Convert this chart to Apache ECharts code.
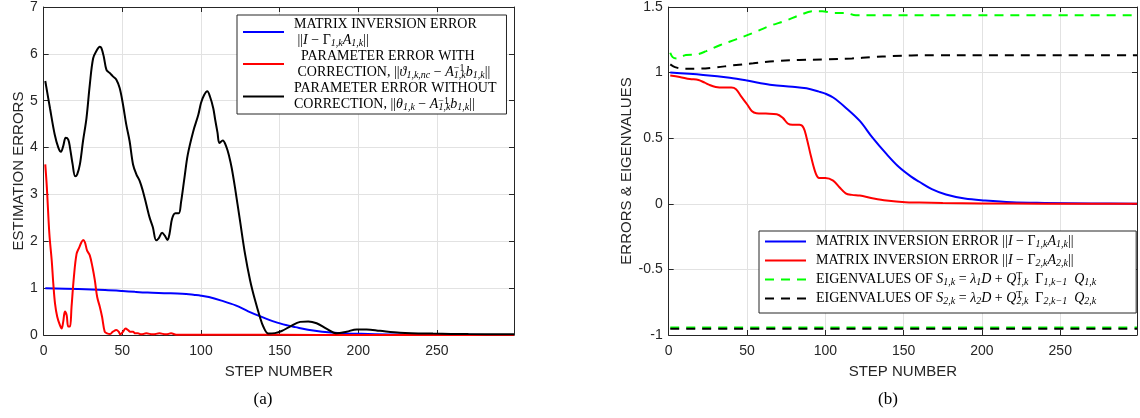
<!DOCTYPE html>
<html><head><meta charset="utf-8">
<script src="https://cdn.jsdelivr.net/npm/echarts@6/dist/echarts.min.js"></script>
<style>html,body{margin:0;padding:0;background:#fff}#c{width:1140px;height:418px}</style>
</head><body><div id="c"></div>
<script>
// ---------- axis ticks ----------
const xTickStep = 50;
const xRange = [0, 299];
const leftYRange = [0, 7];
const leftYStep = 1;
const rightYRange = [-1, 1.5];
const rightYStep = 0.5;

// ---------- texts ----------
const xTitle = 'STEP NUMBER';
const leftYTitle = 'ESTIMATION ERRORS';
const rightYTitle = 'ERRORS & EIGENVALUES';
const captions = ['(a)', '(b)'];

// ---------- (a) series ----------
// matrix inversion error ||I - G1A1|| (blue, also used in (b))
const stepsInv1 = [1, 22, 39, 50, 58, 66, 79, 88, 96, 100, 105, 113, 122, 130, 139, 147, 155, 160, 168, 177, 189, 202, 219, 240, 270, 299];
const valsInv1  = [1.0, 0.982, 0.961, 0.94, 0.921, 0.906, 0.893, 0.88, 0.855, 0.84, 0.81, 0.733, 0.632, 0.506, 0.38, 0.28, 0.205, 0.168, 0.112, 0.071, 0.04, 0.025, 0.012, 0.007, 0.003, 0.001];

// parameter error with correction (red)
const stepsParC = [1, 2, 3.6, 5.1, 6.1, 7.2, 8.6, 10.3, 11.4, 12.4, 13.5, 14.6, 15.6, 16.7, 17.7, 19.2, 20.9, 22.6, 24, 25.1, 26.2, 27.6, 29.3, 31, 32.5, 34, 35.7, 37.1, 38.8, 40.3, 42, 44, 46.2, 47.7, 48.7, 50.4, 52.1, 53.6, 55, 56.8, 58.2, 59.9, 62, 65.2, 69.4, 73.6, 77.8, 81, 84.2, 100, 150, 200, 299];
const valsParC  = [3.64, 3.15, 2.16, 1.59, 1.10, 0.67, 0.39, 0.21, 0.14, 0.28, 0.50, 0.42, 0.18, 0.18, 0.60, 1.24, 1.73, 1.87, 1.98, 2.03, 1.98, 1.80, 1.70, 1.45, 1.17, 0.81, 0.60, 0.39, 0.07, 0.035, 0.02, 0.07, 0.106, 0.07, 0.014, 0.07, 0.14, 0.106, 0.07, 0.07, 0.035, 0.035, 0.014, 0.035, 0.014, 0.035, 0.014, 0.035, 0.007, 0.005, 0.003, 0.002, 0.002];

// parameter error without correction (black)
const stepsParN = [1, 4, 7, 9.3, 11, 12.4, 14, 15.6, 16.7, 18.4, 20, 21.3, 23, 25, 27.2, 29.3, 31.4, 33.5, 35.7, 36.7, 38.2, 39.9, 42, 44, 46.2, 48.3, 50.4, 52.5, 54.6, 56.8, 58.9, 61, 63, 65.2, 67.3, 69.4, 71.5, 73.2, 75.3, 77, 78.7, 80, 81.6, 83.7, 85.9, 87.3, 89.5, 91.6, 95.1, 98.3, 100, 102, 104, 105.6, 107.8, 109, 110.5, 111.7, 113.8, 116.3, 118, 119.5, 121.6, 124.8, 128, 131.2, 134.3, 137.5, 139.6, 142.8, 147, 151.3, 156.6, 163, 168.2, 173.5, 180, 186.3, 192.6, 199, 205.3, 213.8, 226.5, 247.5, 270, 299];
const valsParN  = [5.42, 4.84, 4.28, 4.0, 3.91, 4.03, 4.21, 4.17, 4.0, 3.64, 3.39, 3.43, 3.64, 4.14, 4.63, 5.34, 5.9, 6.06, 6.15, 6.12, 5.94, 5.66, 5.59, 5.52, 5.45, 5.27, 4.92, 4.49, 4.14, 3.64, 3.43, 3.29, 3.08, 2.79, 2.51, 2.30, 2.02, 2.07, 2.18, 2.12, 2.03, 2.16, 2.48, 2.60, 2.60, 2.83, 3.36, 3.85, 4.35, 4.70, 4.95, 5.12, 5.20, 5.10, 4.84, 4.6, 4.32, 4.10, 4.15, 4.0, 3.8, 3.57, 3.15, 2.44, 1.73, 1.17, 0.75, 0.38, 0.18, 0.03, 0.04, 0.085, 0.18, 0.28, 0.29, 0.25, 0.13, 0.035, 0.07, 0.12, 0.12, 0.09, 0.05, 0.03, 0.02, 0.015];

// ---------- (b) series ----------
// matrix inversion error ||I - G2A2|| (red)
const stepsInv2 = [1, 7, 13.5, 19, 23, 26, 30, 35, 40, 43, 46, 50, 53, 56, 62, 69, 73, 76, 79, 83.5, 86, 88, 91, 94, 96, 100, 105, 109, 113, 117, 122, 130, 139, 151, 160, 175, 200, 240, 299];
const valsInv2  = [0.977, 0.967, 0.951, 0.944, 0.923, 0.906, 0.891, 0.886, 0.886, 0.873, 0.822, 0.759, 0.708, 0.691, 0.688, 0.683, 0.653, 0.612, 0.602, 0.602, 0.582, 0.506, 0.354, 0.228, 0.197, 0.197, 0.177, 0.126, 0.08, 0.068, 0.063, 0.043, 0.025, 0.012, 0.01, 0.006, 0.003, 0.001, 0.0005];

// eigenvalues of S1 (green dashed): upper and lower
const stepsEig1Hi = [1, 2.5, 5, 11, 18, 24, 33, 43, 54, 64, 75, 83.5, 92, 98, 105, 113, 119.5, 130, 200, 299];
const valsEig1Hi  = [1.151, 1.118, 1.108, 1.134, 1.139, 1.164, 1.21, 1.253, 1.303, 1.354, 1.397, 1.437, 1.468, 1.468, 1.455, 1.455, 1.437, 1.437, 1.437, 1.437];
const stepsEig1Lo = [1, 100, 200, 299];
const valsEig1Lo  = [-0.943, -0.943, -0.943, -0.943];

// eigenvalues of S2 (black dashed): upper and lower
const stepsEig2Hi = [1, 4, 9, 18, 28, 41, 54, 69, 83.5, 100, 117, 130, 143, 155, 170, 200, 250, 299];
const valsEig2Hi  = [1.063, 1.042, 1.03, 1.03, 1.037, 1.055, 1.071, 1.088, 1.096, 1.101, 1.108, 1.118, 1.126, 1.131, 1.133, 1.133, 1.133, 1.133];
const stepsEig2Lo = [1, 100, 200, 299];
const valsEig2Lo  = [-0.953, -0.953, -0.953, -0.953];

// ---------- legend names ----------
const nInv1 = 'MATRIX INVERSION ERROR ||I − Γ1,kA1,k||';
const nParC = 'PARAMETER ERROR WITH CORRECTION, ||ϑ1,k,nc − A1,k^-1 b1,k||';
const nParN = 'PARAMETER ERROR WITHOUT CORRECTION, ||θ1,k − A1,k^-1 b1,k||';
const nInv2 = 'MATRIX INVERSION ERROR ||I − Γ2,kA2,k||';
const nEig1 = 'EIGENVALUES OF S1,k = λ1D + Q1,k^T Γ1,k−1 Q1,k';
const nEig2 = 'EIGENVALUES OF S2,k = λ2D + Q2,k^T Γ2,k−1 Q2,k';

const leftLegendText = {};
leftLegendText[nInv1] = '{s| }{t|MATRIX INVERSION ERROR}\n{s| }{t| ||}{i|I}{t| − Γ}{sb|1,k}{i|A}{sb|1,k}{t|||}';
leftLegendText[nParC] = '{s| }{t|  PARAMETER ERROR WITH}\n{s| }{t| CORRECTION, ||}{i|ϑ}{sb|1,k,nc}{t| − }{i|A}{up|−1}{sb|1,k}{i|b}{sb|1,k}{t|||}';
leftLegendText[nParN] = '{s| }{t|PARAMETER ERROR WITHOUT}\n{s| }{t|CORRECTION, ||}{i|θ}{sb|1,k}{t| − }{i|A}{up|−1}{sb|1,k}{i|b}{sb|1,k}{t|||}';
const rightLegendText = {};
rightLegendText[nInv1] = '{s| }{t|MATRIX INVERSION ERROR ||}{i|I}{t| − Γ}{sb|1,k}{i|A}{sb|1,k}{t|||}';
rightLegendText[nInv2] = '{s| }{t|MATRIX INVERSION ERROR ||}{i|I}{t| − Γ}{sb|2,k}{i|A}{sb|2,k}{t|||}';
rightLegendText[nEig1] = '{s| }{t|EIGENVALUES OF }{i|S}{sb|1,k}{t| = }{i|λ}{sb|1}{i|D}{t| + }{i|Q}{up|T}{sb|1,k}{t|  Γ}{sb|1,k−1}{t|  }{i|Q}{sb|1,k}';
rightLegendText[nEig2] = '{s| }{t|EIGENVALUES OF }{i|S}{sb|2,k}{t| = }{i|λ}{sb|2}{i|D}{t| + }{i|Q}{up|T}{sb|2,k}{t|  Γ}{sb|2,k−1}{t|  }{i|Q}{sb|2,k}';

// ---------- helpers ----------
function zip(xs, ys) { return xs.map((x, i) => [x, ys[i]]); }

const AX = '#262626';
const GRIDC = '#e2e2e2';
const SANS = 'Liberation Sans, Arial, sans-serif';
const SERIF = 'Liberation Serif, Times New Roman, serif';

function richStyles(lh) {
  const base = { fontFamily: SERIF, fontSize: 14, color: '#000', lineHeight: lh };
  return {
    s: Object.assign({}, base, { width: 5, height: lh }),
    t: Object.assign({}, base),
    i: Object.assign({}, base, { fontStyle: 'italic' }),
    sb: Object.assign({}, base, { fontSize: 10, fontStyle: 'italic', padding: [6, 0, 0, 0] }),
    up: Object.assign({}, base, { fontSize: 10, padding: [0, 0, 7, 0], width: 0.1 })
  };
}

function xAxes(gi) {
  return [
    { gridIndex: gi, type: 'value', min: xRange[0], max: xRange[1], interval: xTickStep, position: 'bottom',
      axisLine: { show: true, onZero: false, lineStyle: { color: AX, width: 1 } },
      axisTick: { show: true, inside: true, length: 5, lineStyle: { color: AX } },
      axisLabel: { color: AX, fontSize: 14, fontFamily: SANS, margin: 9,
                   formatter: v => (v % xTickStep === 0 ? String(v) : '') },
      splitLine: { show: true, lineStyle: { color: GRIDC, width: 1 } },
      name: xTitle, nameLocation: 'middle', nameGap: 29,
      nameTextStyle: { color: AX, fontSize: 15, fontFamily: SANS } },
    { gridIndex: gi, type: 'value', min: xRange[0], max: xRange[1], interval: xTickStep, position: 'top',
      axisLine: { show: true, onZero: false, lineStyle: { color: AX, width: 1 } },
      axisTick: { show: true, inside: true, length: 5, lineStyle: { color: AX } },
      axisLabel: { show: false }, splitLine: { show: false } }
  ];
}
function yAxes(gi, rng, step, title, gap) {
  return [
    { gridIndex: gi, type: 'value', min: rng[0], max: rng[1], interval: step, position: 'left',
      axisLine: { show: true, onZero: false, lineStyle: { color: AX, width: 1 } },
      axisTick: { show: true, inside: true, length: 5, lineStyle: { color: AX } },
      axisLabel: { color: AX, fontSize: 14, fontFamily: SANS, margin: 6 },
      splitLine: { show: true, lineStyle: { color: GRIDC, width: 1 } },
      name: title, nameLocation: 'middle', nameGap: gap,
      nameTextStyle: { color: AX, fontSize: 15, fontFamily: SANS } },
    { gridIndex: gi, type: 'value', min: rng[0], max: rng[1], interval: step, position: 'right',
      axisLine: { show: true, onZero: false, lineStyle: { color: AX, width: 1 } },
      axisTick: { show: true, inside: true, length: 5, lineStyle: { color: AX } },
      axisLabel: { show: false }, splitLine: { show: false } }
  ];
}
function line(name, xi, yi, xs, ys, color, dashed) {
  return { name: name, type: 'line', xAxisIndex: xi, yAxisIndex: yi, data: zip(xs, ys),
           symbol: 'none', smooth: 0.35, clip: true,
           lineStyle: { color: color, width: 2, type: dashed ? [9, 7] : 'solid' },
           itemStyle: { color: color } };
}

const chart = echarts.init(document.getElementById('c'), null, { renderer: 'canvas' });
chart.setOption({
  animation: false,
  backgroundColor: '#fff',
  grid: [
    { left: 43.7, top: 5, width: 470.3, height: 330, containLabel: false },
    { left: 668.7, top: 5, width: 469.5, height: 330, containLabel: false }
  ],
  xAxis: xAxes(0).concat(xAxes(1)),
  yAxis: yAxes(0, leftYRange, leftYStep, leftYTitle, 17).concat(yAxes(1, rightYRange, rightYStep, rightYTitle, 33)),
  legend: [
    { data: [nInv1, nParC, nParN], orient: 'vertical', left: 237, top: 15,
      itemWidth: 41, itemHeight: 14, itemGap: 0, padding: [1, 10, 1, 5],
      itemStyle: { opacity: 0 },
      borderColor: AX, borderWidth: 1, backgroundColor: '#fff', selectedMode: false,
      formatter: n => leftLegendText[n], textStyle: { lineHeight: 16, rich: richStyles(16) } },
    { data: [nInv1, nInv2, nEig1, nEig2], orient: 'vertical', left: 759, top: 231,
      itemWidth: 41, itemHeight: 14, itemGap: 0, padding: [1, 40, 5, 5],
      itemStyle: { opacity: 0 },
      borderColor: AX, borderWidth: 1, backgroundColor: '#fff', selectedMode: false,
      formatter: n => rightLegendText[n], textStyle: { lineHeight: 19, rich: richStyles(19) } }
  ],
  graphic: [
    { type: 'text', left: 264.5 - 11, top: 391, style: { text: captions[0], font: '17px ' + SERIF, fill: '#000' } },
    { type: 'text', left: 889 - 11, top: 391, style: { text: captions[1], font: '17px ' + SERIF, fill: '#000' } }
  ],
  series: [
    line(nInv1, 0, 0, stepsInv1, valsInv1, '#0000ff', false),
    line(nParC, 0, 0, stepsParC, valsParC, '#ff0000', false),
    line(nParN, 0, 0, stepsParN, valsParN, '#000000', false),
    line(nInv1, 2, 2, stepsInv1, valsInv1, '#0000ff', false),
    line(nInv2, 2, 2, stepsInv2, valsInv2, '#ff0000', false),
    line(nEig1, 2, 2, stepsEig1Hi, valsEig1Hi, '#00ff00', true),
    line(nEig2, 2, 2, stepsEig2Hi, valsEig2Hi, '#000000', true),
    line(nEig1, 2, 2, stepsEig1Lo, valsEig1Lo, '#00ff00', true),
    line(nEig2, 2, 2, stepsEig2Lo, valsEig2Lo, '#000000', true)
  ]
});
</script>
</body></html>
